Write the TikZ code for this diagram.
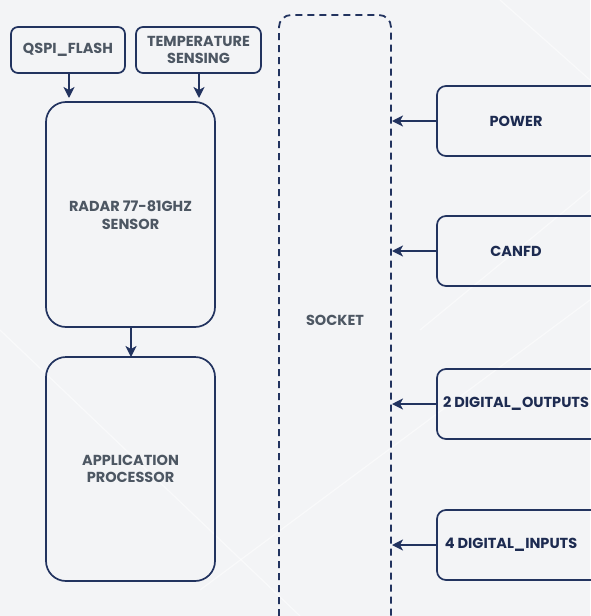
\documentclass[tikz,border=0pt]{standalone}
\usepackage{fontspec}
\setmainfont{Poppins}[UprightFont=* Bold]
\usetikzlibrary{arrows.meta}
\definecolor{navy}{HTML}{22335F}
\definecolor{slate}{HTML}{4D5763}
\definecolor{bg}{HTML}{F3F4F6}
\tikzset{
  box/.style={draw=navy, line width=1.7pt, rounded corners=#1, fill=none},
  box/.default=7pt,
  lbl/.style={text=slate, font=\fontsize{14.5}{17.5}\selectfont, align=center},
  rlbl/.style={text=navy!85!black, font=\fontsize{14.5}{17.5}\selectfont, align=center},
  arr/.style={draw=navy, line width=1.7pt, -{Stealth[length=11pt,width=11pt,inset=3pt]}},
}
\begin{document}
\begin{tikzpicture}[x=1pt,y=-1pt]
\fill[bg] (0,0) rectangle (590,616);
\useasboundingbox (0,0) rectangle (590,616);
\begin{scope}[white, line width=1.2pt, opacity=0.5]
\draw (0,330) -- (300,616);
\draw (420,330) -- (590,190);
\draw (200,590) -- (590,300);
\draw (500,0) -- (590,80);
\end{scope}
% left boxes
\draw[box] (11,27) rectangle (125,73);
\node[lbl] (qspi) at (68,50) {QSPI\_FLASH};
\draw[box] (136,27) rectangle (261,73);
\node[lbl] (temp) at (198.5,50) {TEMPERATURE\\SENSING};
\draw[box=20pt] (46,102) rectangle (215,327);
\node[lbl] (radar) at (130.5,215) {RADAR 77-81GHZ\\SENSOR};
\draw[box=20pt] (46,357) rectangle (215,581);
\node[lbl] (app) at (130.5,469) {APPLICATION\\PROCESSOR};
\coordinate (qspiB) at (69,73);
\coordinate (qspiT) at (69,98);
\coordinate (tempB) at (199,73);
\coordinate (tempT) at (199,98);
\coordinate (radB) at (131,327);
\coordinate (appT) at (131,357);
\draw[arr] (qspiB) -- (qspiT);
\draw[arr] (tempB) -- (tempT);
\draw[arr] (radB) -- (appT);
% socket
\draw[navy, line width=1.8pt, dash pattern=on 7pt off 5pt, rounded corners=12pt] (279,640) -- (279,15) -- (391,15) -- (391,640);
\node[lbl] (socket) at (335,320) {SOCKET};
% right boxes
\foreach \nm/\yc in {pw/121, can/251, dout/404, din/545}{
  \draw[box=9pt] (437,\yc-35) rectangle (610,\yc+35);
  \coordinate (\nm L) at (437,\yc);
  \coordinate (\nm S) at (392,\yc);
  \draw[arr] (\nm L) -- (\nm S);
}
\node[rlbl] (pwt) at (516,121) {POWER};
\node[rlbl] (cant) at (516,251) {CANFD};
\node[rlbl] (doutt) at (516,404) {2 DIGITAL\_OUTPUTS};
\node[rlbl] (dint) at (511,545) {4 DIGITAL\_INPUTS};
\end{tikzpicture}
\end{document}
